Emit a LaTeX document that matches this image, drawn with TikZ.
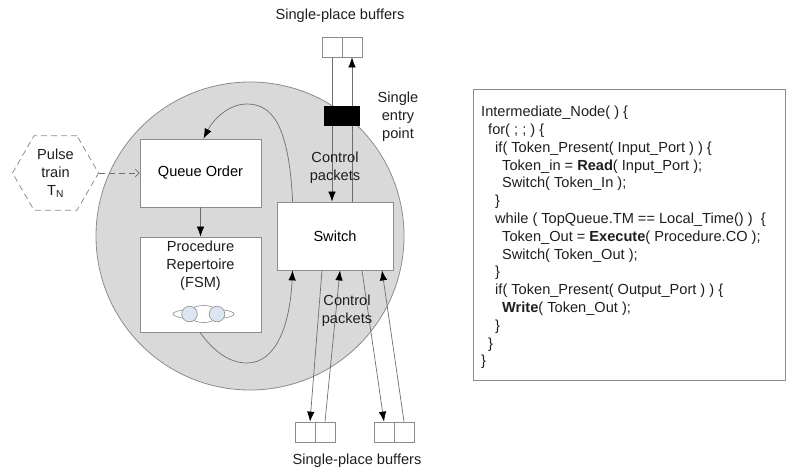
\documentclass[tikz,border=0pt]{standalone}
\usepackage{fontspec}
\setmainfont{Liberation Sans}
\usetikzlibrary{arrows.meta,shapes.geometric,calc}

\definecolor{linegray}{HTML}{6E6E6E}
\definecolor{boxgray}{HTML}{8C8C8C}
\definecolor{discgray}{HTML}{D9D9D9}
\definecolor{fsmblue}{HTML}{DCE6F2}
\definecolor{inkgray}{HTML}{1E1E1E}

\begin{document}
\begin{tikzpicture}[
    x=1pt, y=-1pt,
    font=\fontsize{14.6}{18}\selectfont,
    disc/.style={circle, draw=boxgray, fill=discgray, line width=0.8pt, minimum size=308pt, inner sep=0pt},
    block/.style={draw=boxgray, fill=white, line width=0.8pt, minimum width=121pt, inner sep=0pt},
    cell/.style={draw=boxgray, fill=white, line width=0.7pt, minimum size=20pt, inner sep=0pt},
    label/.style={align=center, text=inkgray, inner sep=0pt},
    flow/.style={->, >={Latex[length=10pt,width=7.5pt,color=black]}, line width=0.7pt, draw=linegray},
    pulsebox/.style={regular polygon, regular polygon sides=6, draw=boxgray, dash pattern=on 6pt off 4pt, line width=0.8pt, minimum size=86pt, inner sep=0pt},
    trigger/.style={->, >={Straight Barb[length=4pt,width=8pt]}, dash pattern=on 6pt off 4pt, line width=0.7pt, draw=linegray},
]

\useasboundingbox (0,0) rectangle (795,471);

% === Node body ===
\node[disc] (disc) at (250,236) {};

% === Blocks ===
\node[block, minimum height=68pt] (qorder) at (200.5,173) {Queue Order};
\node[block, minimum height=95pt] (repert) at (200.5,284.5) {};
\node[label] (repertxt) at (200.5,266) {Procedure\\Repertoire\\(FSM)};
\node[block, minimum width=116pt, minimum height=68pt] (switch) at (335,236) {Switch};

% --- small FSM picture
\draw[boxgray, fill=white, line width=0.6pt] (203.5,314) ellipse (30.5 and 5.5);
\draw[boxgray, fill=white, line width=0.6pt] (203.5,314) ellipse (15 and 8.5);
\draw[boxgray, fill=fsmblue, line width=0.6pt] (189.5,314) circle (7.8);
\draw[boxgray, fill=fsmblue, line width=0.6pt] (217,314) circle (7.8);

% === Buffers ===
\node[cell] (bufTa) at (332,47) {};
\node[cell] (bufTb) at (352,47) {};
\node[cell] (bufLa) at (305,432) {};
\node[cell] (bufLb) at (325,432) {};
\node[cell] (bufRa) at (384,432) {};
\node[cell] (bufRb) at (404,432) {};

% === Control packets in and out ===
\draw[flow] (bufTa.south) -- (switch.north -| bufTa.south);
\draw[flow] (switch.north -| bufTb.south) -- (bufTb.south);
\node[fill=black, minimum width=36pt, minimum height=20pt, inner sep=0pt] (entry) at (342,116) {};

\draw[flow] ([xshift=-13pt]switch.south) -- ([xshift=5pt]bufLa.north);
\draw[flow] (bufLb.north) -- ([xshift=5pt]switch.south);
\draw[flow] ([xshift=27pt]switch.south) -- (bufRa.north);
\draw[flow] (bufRb.north) -- ([xshift=47pt]switch.south);

% === Loops between switch and blocks ===
\draw[flow] ([xshift=16pt]switch.north west)
    .. controls (289,125) and (272,104) .. (247,104)
    .. controls (228,104) and (213,120) .. ([xshift=3pt]qorder.north);
\draw[flow] ([xshift=-0.5pt]repert.south)
    .. controls (214,352) and (230,363) .. (247,363)
    .. controls (276,363) and (290,325) .. ([xshift=16pt]switch.south west);

\draw[flow] (qorder.south) -- (repert.north);

% === Pulse train ===
\node[pulsebox] (pulse) at (55.5,173) {};
\node[label] (pulsetxt) at (55.5,173) {Pulse\\train\\T\textsubscript{N}};
\draw[trigger] (pulse.east) -- (qorder.west);

% === Labels ===
\node[label] (toptxt) at (340,16) {Single-place buffers};
\node[label] (bottxt) at (357,461) {Single-place buffers};
\node[label] (entrytxt) at (398,117) {Single\\entry\\point};
\node[label] (ctrltop) at (335,168) {Control\\packets};
\node[label] (ctrlbot) at (347,310.5) {Control\\packets};

% === Pseudo code ===
\node[draw=boxgray, line width=0.8pt, minimum width=312pt, minimum height=291pt, inner sep=0pt] (code) at (629,234.5) {};
\node[anchor=north west, align=left, inner sep=0pt, text=inkgray,
      font=\fontsize{14.6}{17.8}\selectfont] (codetxt) at (481,106) {%
Intermediate\_Node( ) \{\\
\hspace*{7pt}for( ; ; ) \{\\
\hspace*{14pt}if( Token\_Present( Input\_Port ) ) \{\\
\hspace*{21pt}Token\_in = \textbf{Read}( Input\_Port );\\
\hspace*{21pt}Switch( Token\_In );\\
\hspace*{14pt}\}\\
\hspace*{14pt}while ( TopQueue.TM == Local\_Time() )\ \ \{\\
\hspace*{21pt}Token\_Out = \textbf{Execute}( Procedure.CO );\\
\hspace*{21pt}Switch( Token\_Out );\\
\hspace*{14pt}\}\\
\hspace*{14pt}if( Token\_Present( Output\_Port ) ) \{\\
\hspace*{21pt}\textbf{Write}( Token\_Out );\\
\hspace*{14pt}\}\\
\hspace*{7pt}\}\\
\}};

\end{tikzpicture}
\end{document}
